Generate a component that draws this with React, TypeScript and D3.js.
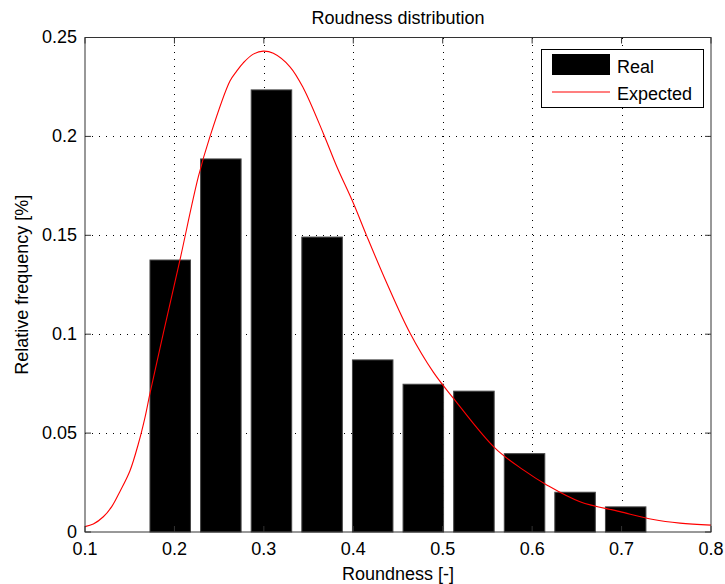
import React from "react";
import * as d3 from "d3";

const binCenters = [0.1953, 0.2519, 0.3085, 0.3651, 0.4217, 0.4783, 0.5349, 0.5915, 0.648, 0.7046];
const realFreq = [0.1375, 0.1886, 0.2235, 0.1491, 0.087, 0.0747, 0.0712, 0.0396, 0.0201, 0.0127];

const expX = [0.1, 0.1093, 0.1205, 0.1299, 0.1391, 0.1503, 0.1596, 0.1671, 0.1727, 0.1876, 0.2062, 0.2267, 0.2398, 0.2621, 0.2696, 0.277, 0.2882, 0.2994, 0.3106, 0.3292, 0.3441, 0.3665, 0.3814, 0.4, 0.415, 0.4374, 0.4634, 0.4895, 0.5118, 0.5585, 0.5901, 0.6163, 0.6535, 0.6982, 0.7355, 0.7653, 0.8];
const expY = [0.0027, 0.004, 0.0077, 0.0128, 0.0205, 0.031, 0.0445, 0.058, 0.0702, 0.1005, 0.1376, 0.1795, 0.2, 0.228, 0.233, 0.2372, 0.2416, 0.2431, 0.242, 0.2352, 0.2245, 0.2015, 0.1849, 0.1663, 0.1497, 0.1259, 0.1006, 0.0808, 0.0677, 0.0424, 0.0314, 0.0238, 0.0153, 0.0103, 0.0063, 0.0045, 0.0035];

const xTicks = [0.1, 0.2, 0.3, 0.4, 0.5, 0.6, 0.7, 0.8];
const yTicks = [0, 0.05, 0.1, 0.15, 0.2, 0.25];
const xTickLabels = ["0.1", "0.2", "0.3", "0.4", "0.5", "0.6", "0.7", "0.8"];
const yTickLabels = ["0", "0.05", "0.1", "0.15", "0.2", "0.25"];
const binWidth = 0.0566;
const barFraction = 0.8;

const W = 725, H = 584;
const L = 85, R = 711, T = 37.5, B = 532;
const FONT = "'Liberation Sans', Arial, sans-serif";

export default function App() {
  const x = d3.scaleLinear().domain([0.1, 0.8]).range([L, R]);
  const y = d3.scaleLinear().domain([0, 0.25]).range([B, T]);
  const line = d3
    .line<number>()
    .x((_, i) => x(expX[i]))
    .y((d) => y(d))
    .curve(d3.curveCatmullRom.alpha(0.5));
  const tick = 6;
  const axisColor = "#333";
  return (
    <svg width={W} height={H} style={{ position: "absolute", left: 0, top: 0, background: "#fff" }} fontFamily={FONT}>
      <rect x={0} y={0} width={W} height={H} fill="#fff" />
      {/* grid */}
      <g stroke="#000" strokeWidth={1} strokeDasharray="1,6" shapeRendering="crispEdges">
        {xTicks.slice(1, -1).map((t) => (
          <line key={"gx" + t} x1={Math.round(x(t)) + 0.5} x2={Math.round(x(t)) + 0.5} y1={T} y2={B} />
        ))}
        {yTicks.slice(1, -1).map((t) => (
          <line key={"gy" + t} x1={L} x2={R} y1={Math.round(y(t)) + 0.5} y2={Math.round(y(t)) + 0.5} />
        ))}
      </g>
      {/* bars */}
      <g>
        {binCenters.map((c, i) => {
          const x0 = x(c - (binWidth * barFraction) / 2);
          const x1 = x(c + (binWidth * barFraction) / 2);
          return (
            <rect key={"b" + i} x={x0} y={y(realFreq[i])} width={x1 - x0} height={B - y(realFreq[i])} fill="#000" stroke="#444" strokeWidth={1} />
          );
        })}
      </g>
      {/* expected curve */}
      <path d={line(expY) || ""} fill="none" stroke="#ff0000" strokeWidth={1.1} />
      {/* box */}
      <rect x={L} y={T} width={R - L} height={B - T} fill="none" stroke={axisColor} strokeWidth={1} />
      {/* ticks */}
      <g stroke={axisColor} strokeWidth={1}>
        {xTicks.map((t) => (
          <g key={"tx" + t}>
            <line x1={x(t)} x2={x(t)} y1={B} y2={B - tick} />
            <line x1={x(t)} x2={x(t)} y1={T} y2={T + tick} />
          </g>
        ))}
        {yTicks.map((t) => (
          <g key={"ty" + t}>
            <line x1={L} x2={L + tick} y1={y(t)} y2={y(t)} />
            <line x1={R} x2={R - tick} y1={y(t)} y2={y(t)} />
          </g>
        ))}
      </g>
      {/* tick labels */}
      <g fontSize={18} fill="#000">
        {xTicks.map((t, i) => (
          <text key={"lx" + t} x={x(t)} y={555} textAnchor="middle">
            {xTickLabels[i]}
          </text>
        ))}
        {yTicks.map((t, i) => (
          <text key={"ly" + t} x={77} y={y(t) + 5.5} textAnchor="end">
            {yTickLabels[i]}
          </text>
        ))}
      </g>
      {/* titles */}
      <text x={(L + R) / 2} y={24} textAnchor="middle" fontSize={18} fill="#000">
        Roudness distribution
      </text>
      <text x={(L + R) / 2} y={580} textAnchor="middle" fontSize={18} fill="#000">
        Roundness [-]
      </text>
      <text transform={`translate(28,${(T + B) / 2}) rotate(-90)`} textAnchor="middle" fontSize={18} fill="#000">
        Relative frequency [%]
      </text>
      {/* legend */}
      <g>
        <rect x={541.5} y={49.5} width={162} height={58} fill="#fff" stroke="#000" strokeWidth={1} />
        <rect x={552} y={54} width={58} height={21} fill="#000" />
        <text x={617} y={72.5} fontSize={18} fill="#000">Real</text>
        <line x1={552} x2={610} y1={92} y2={92} stroke="#ff0000" strokeWidth={1.1} />
        <text x={617} y={99.5} fontSize={18} fill="#000">Expected</text>
      </g>
    </svg>
  );
}
